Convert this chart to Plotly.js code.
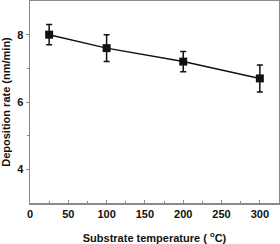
<!DOCTYPE html>
<html><head><meta charset="utf-8">
<script src="https://cdn.plot.ly/plotly-3.0.1.min.js"></script>
<style>html,body{margin:0;padding:0;background:#fff}#c{width:280px;height:244px}</style>
</head><body><div id="c"></div>
<script>
const temperature = [25, 100, 200, 300];
const depositionRate = [8.0, 7.6, 7.2, 6.7];
const rateError = [0.3, 0.4, 0.3, 0.4];
const xTicks = [0, 50, 100, 150, 200, 250, 300];
const yTicks = [4, 6, 8];

const font = {family: 'Liberation Sans, Arial, sans-serif', size: 11, color: '#111', weight: 'bold'};
const axisColor = '#8a8a8a';

Plotly.newPlot('c', [{
  x: temperature, y: depositionRate, type: 'scatter', mode: 'lines+markers',
  line: {color: '#111', width: 1.5},
  marker: {symbol: 'square', size: 8, color: '#111'},
  error_y: {type: 'data', array: rateError, visible: true, color: '#111', thickness: 1.5, width: 3}
}], {
  width: 280, height: 244,
  margin: {l: 30, r: 1, t: 1, b: 41},
  paper_bgcolor: '#fff', plot_bgcolor: '#fff',
  showlegend: false, font: font,
  xaxis: {
    range: [0, 325], tickvals: xTicks, ticktext: xTicks.map(String),
    ticks: 'inside', ticklen: 3, tickcolor: axisColor, tickwidth: 1,
    minor: {tickvals: [25, 75, 125, 175, 225, 275, 325], ticks: 'inside', ticklen: 2, tickcolor: axisColor},
    showline: true, linecolor: axisColor, linewidth: 1.5, mirror: true,
    showgrid: false, zeroline: false, tickfont: font,
    title: {text: 'Substrate temperature ( <sup>o</sup>C)', font: font, standoff: 15}
  },
  yaxis: {
    range: [3, 9], tickvals: yTicks, ticktext: yTicks.map(String),
    ticks: 'outside', ticklen: 3, tickcolor: axisColor, tickwidth: 1,
    minor: {tickvals: [5, 7], ticks: 'outside', ticklen: 2, tickcolor: axisColor},
    showline: true, linecolor: axisColor, linewidth: 1.5, mirror: true,
    showgrid: false, zeroline: false, tickfont: font,
    title: {text: 'Deposition rate (nm/min)', font: font, standoff: 5}
  }
}, {displayModeBar: false, staticPlot: true});
</script></body></html>
